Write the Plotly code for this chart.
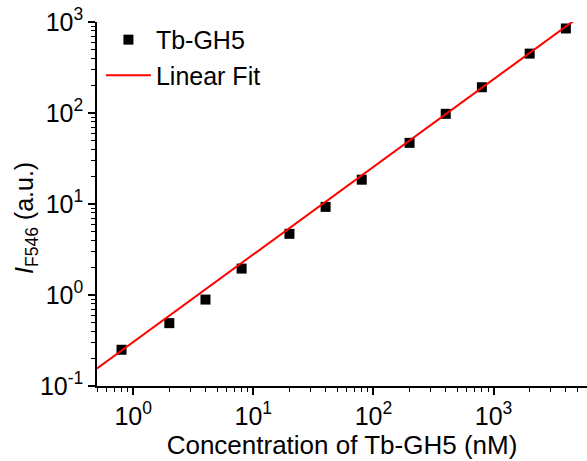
import math
import plotly.graph_objects as go

conc = [0.8, 2, 4, 8, 20, 40, 80, 200, 400, 800, 2000, 4000]
intensity = [0.25, 0.49, 0.89, 1.95, 4.7, 9.3, 18.5, 47, 98, 192, 450, 850]
fit_x = [0.5, 6000]
fit_y = [0.156, 1320]

x_tickvals = [1, 10, 100, 1000]
x_ticktext = ["10<sup>0</sup>", "10<sup>1</sup>", "10<sup>2</sup>", "10<sup>3</sup>"]
y_tickvals = [0.1, 1, 10, 100, 1000]
y_ticktext = ["10<sup>-1</sup>", "10<sup>0</sup>", "10<sup>1</sup>", "10<sup>2</sup>", "10<sup>3</sup>"]

x_minor = [m * 10 ** e for e in range(-1, 4) for m in range(2, 10) if 0.5 <= m * 10 ** e <= 6000]
y_minor = [m * 10 ** e for e in range(-1, 3) for m in range(2, 10)]

FONT = "Liberation Sans, Arial, sans-serif"

fig = go.Figure()
fig.add_trace(go.Scatter(
    x=conc, y=intensity, mode="markers", name="Tb-GH5",
    marker=dict(symbol="square", size=10, color="black"),
))
fig.add_trace(go.Scatter(
    x=fit_x, y=fit_y, mode="lines", name="Linear Fit",
    line=dict(color="#ff0000", width=2),
))

axis_common = dict(
    type="log", showgrid=False, zeroline=False, showline=True,
    linecolor="black", linewidth=1.5, ticks="outside", ticklen=7,
    tickwidth=1.5, tickcolor="black", tickmode="array",
    tickfont=dict(family=FONT, size=25, color="black"),
    mirror=False, automargin=False, ticklabeloverflow="allow",
)
fig.update_xaxes(
    **axis_common,
    range=[math.log10(0.5), math.log10(6000)],
    tickvals=x_tickvals, ticktext=x_ticktext,
    minor=dict(tickmode="array", tickvals=x_minor, ticks="outside", ticklen=4,
               tickwidth=1.2, tickcolor="black"),
    title=dict(text="Concentration of Tb-GH5 (nM)",
               font=dict(family=FONT, size=26, color="black"), standoff=4),
)
fig.update_yaxes(
    **axis_common,
    range=[-1.0005, 3.0005],
    tickvals=y_tickvals, ticktext=y_ticktext,
    minor=dict(tickmode="array", tickvals=y_minor, ticks="outside", ticklen=4,
               tickwidth=1.2, tickcolor="black"),
)
fig.add_annotation(
    text="<i>I</i><sub>F546</sub> (a.u.)", textangle=-90,
    xref="paper", yref="paper", x=-0.145, y=0.4615,
    xanchor="center", yanchor="middle", showarrow=False,
    font=dict(family=FONT, size=25, color="black"),
)
fig.update_layout(
    width=587, height=461,
    margin=dict(l=97, r=0, t=22, b=75, autoexpand=False),
    plot_bgcolor="white", paper_bgcolor="white",
    showlegend=True,
    legend=dict(x=0.008, y=1.014, xanchor="left", yanchor="top",
                font=dict(family=FONT, size=25, color="black"),
                bgcolor="rgba(0,0,0,0)", itemwidth=45, tracegroupgap=0),
)
fig.write_html("out.html", post_script="document.body.style.margin='0';",
               config={"displayModeBar": False})
